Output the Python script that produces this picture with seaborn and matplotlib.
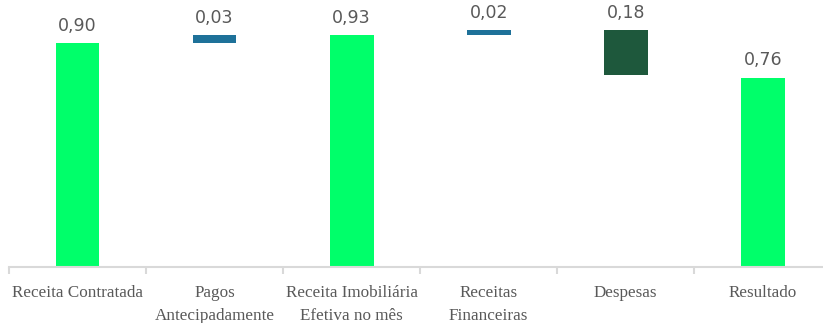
import numpy as np
import pandas as pd
import matplotlib
matplotlib.use('Agg')
import matplotlib.pyplot as plt
import seaborn as sns

categories = ['Receita Contratada', 'Pagos\nAntecipadamente', 'Receita Imobiliária\nEfetiva no mês',
              'Receitas\nFinanceiras', 'Despesas', 'Resultado']
values = [0.90, 0.03, 0.93, 0.02, -0.18, 0.76]
kinds = ['total', 'delta', 'total', 'delta', 'delta', 'total']
labels = ['0,90', '0,03', '0,93', '0,02', '0,18', '0,76']

colors = {'total': '#00ff6a', 'up': '#1e7199', 'down': '#1e583c'}

# waterfall bottoms / heights
bottoms, heights, fills = [], [], []
level = 0.0
for v, k in zip(values, kinds):
    if k == 'total':
        bottoms.append(0.0); heights.append(v); fills.append(colors['total'])
        level = v
    else:
        if v >= 0:
            bottoms.append(level); heights.append(v); fills.append(colors['up'])
        else:
            bottoms.append(level + v); heights.append(-v); fills.append(colors['down'])
        level += v

df = pd.DataFrame({'cat': categories, 'h': heights, 'b': bottoms})

sns.set_style('white')
fig = plt.figure(figsize=(8.23, 3.23), dpi=100)
ax = fig.add_axes([9/823, 56/323, 814/823, 249/323])

sns.barplot(data=df, x='cat', y='h', bottom=df['b'].values, color='#00ff6a',
            width=0.32, saturation=1, ax=ax)
for p, c in zip(ax.patches, fills):
    p.set_facecolor(c)
    p.set_edgecolor('none')

for i, (b, h, t) in enumerate(zip(bottoms, heights, labels)):
    ax.annotate(t, (i, b + h), xytext=(0, 6), textcoords='offset points',
                ha='center', va='bottom', fontsize=12.5, color='#595959',
                family='DejaVu Sans')

ax.set_xlabel('')
ax.set_ylabel('')
ax.set_yticks([])
for s in ['top', 'right', 'left']:
    ax.spines[s].set_visible(False)
ax.spines['bottom'].set_color('#d9d9d9')
ax.spines['bottom'].set_linewidth(1.5)

ax.set_xticks(range(len(categories)))
ax.set_xticklabels(categories, family='Liberation Serif', fontsize=12.3,
                   color='#595959', linespacing=1.6)
ax.tick_params(axis='x', which='major', bottom=False, length=0, pad=13)
ax.set_xticks(np.arange(-0.5, 6, 1), minor=True)
ax.tick_params(axis='x', which='minor', bottom=True, length=5, width=1.5,
               color='#d9d9d9', direction='out')

ax.set_xlim(-0.5, 5.44)
ax.set_ylim(0, 1.0)

fig.savefig('out.png', dpi=100)
